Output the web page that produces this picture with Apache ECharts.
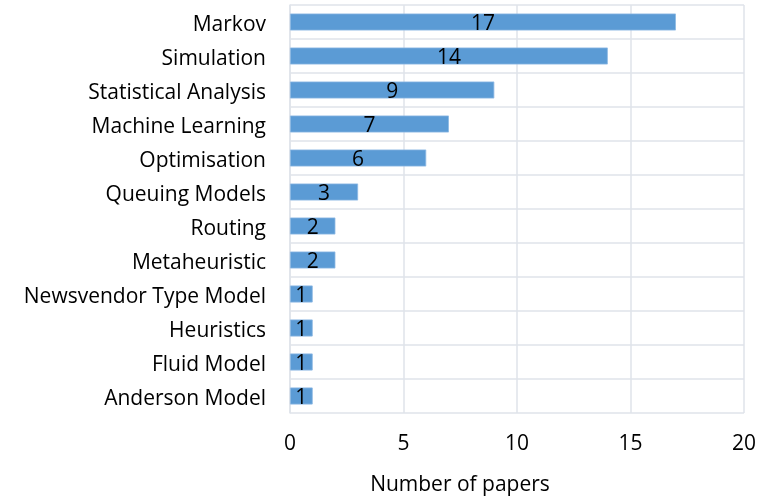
<!DOCTYPE html>
<html><head><meta charset="utf-8">
<script src="https://cdn.jsdelivr.net/npm/echarts@6/dist/echarts.min.js"></script>
<style>html,body{margin:0;padding:0;background:#fff}#c{width:759px;height:501px}</style>
</head><body><div id="c"></div>
<script>
const categories = ["Anderson Model","Fluid Model","Heuristics","Newsvendor Type Model","Metaheuristic","Routing","Queuing Models","Optimisation","Machine Learning","Statistical Analysis","Simulation","Markov"];
const paperCounts = [1,1,1,1,2,2,3,6,7,9,14,17];
const xTicks = {min:0, max:20, interval:5};
const FONT = "'Open Sans', sans-serif";
const gridColor = "#dfe3ea";
const chart = echarts.init(document.getElementById('c'), null, {renderer:'canvas'});
chart.setOption({
  animation:false,
  grid:{left:290, right:13, top:5, bottom:84, containLabel:false},
  xAxis:{type:'value', min:xTicks.min, max:xTicks.max, interval:xTicks.interval,
    name:'Number of papers', nameLocation:'middle', nameGap:62,
    nameTextStyle:{fontFamily:FONT, fontSize:21, color:'#000', padding:[0,114,0,0]},
    axisLabel:{fontFamily:FONT, fontSize:21, color:'#000', margin:21},
    axisLine:{show:false}, axisTick:{show:false},
    splitLine:{show:true, lineStyle:{color:gridColor, width:1.5}}},
  yAxis:{type:'category', data:categories,
    axisLabel:{margin:24, formatter: v => '{a|' + v + '}',
      rich:{a:{fontFamily:FONT, fontSize:21, color:'#000', padding:[6,0,0,0]}}},
    axisLine:{show:true, lineStyle:{color:gridColor, width:1.5}}, axisTick:{show:false},
    splitLine:{show:true, lineStyle:{color:gridColor, width:1.5}}},
  series:[{type:'bar', data:paperCounts, barWidth:'50%',
    itemStyle:{color:'#5b9bd5', borderColor:'#8db9e3', borderWidth:0.8},
    label:{show:true, position:'inside', color:'#000', fontFamily:FONT, fontSize:21, offset:[0,2]}}]
});
</script></body></html>
